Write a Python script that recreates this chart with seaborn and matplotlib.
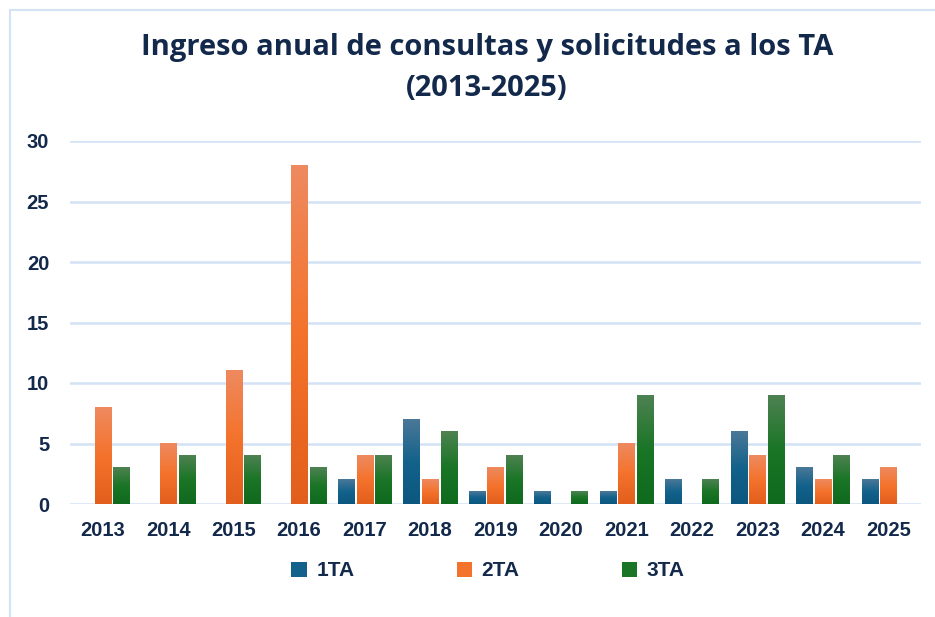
import numpy as np
import pandas as pd
import matplotlib
matplotlib.use("Agg")
import matplotlib.pyplot as plt
from matplotlib.colors import LinearSegmentedColormap
from matplotlib.patches import Patch, Rectangle
import seaborn as sns

# Data
years = ["2013", "2014", "2015", "2016", "2017", "2018", "2019",
         "2020", "2021", "2022", "2023", "2024", "2025"]
ta1 = [0, 0, 0, 0, 2, 7, 1, 1, 1, 2, 6, 3, 2]
ta2 = [8, 5, 11, 28, 4, 2, 3, 0, 5, 0, 4, 2, 3]
ta3 = [3, 4, 4, 3, 4, 6, 4, 1, 9, 2, 9, 4, 0]
series = ["1TA", "2TA", "3TA"]

df = pd.DataFrame({"year": years, "1TA": ta1, "2TA": ta2, "3TA": ta3})
long_df = df.melt(id_vars="year", var_name="serie", value_name="valor")

# gradient stops per series: top, middle, bottom
grad = {
    "1TA": ["#4b7898", "#13628b", "#0b5780"],
    "2TA": ["#ee8a60", "#f4732c", "#e25e1c"],
    "3TA": ["#4e8252", "#1a7526", "#106a1e"],
}
palette = {k: v[1] for k, v in grad.items()}
navy = "#13294b"
grid_col = "#d3e2f4"

sns.set_style("white")
plt.rcParams["font.family"] = ["Liberation Sans", "DejaVu Sans"]

fig = plt.figure(figsize=(9.35, 6.17), dpi=100)
ax = fig.add_axes([70 / 935, 113 / 617, 851 / 935, 363 / 617])

sns.barplot(data=long_df, x="year", y="valor", hue="serie", palette=palette,
            width=0.85, gap=0.13, ax=ax, legend=False)

# replace flat bars with vertical gradients
for container, name in zip(ax.containers, series):
    cmap = LinearSegmentedColormap.from_list(name, grad[name][::-1])
    g = np.linspace(0, 1, 256).reshape(-1, 1)
    for bar in container:
        h = bar.get_height()
        if h <= 0:
            bar.set_visible(False)
            continue
        x0, w = bar.get_x(), bar.get_width()
        ax.imshow(g, cmap=cmap, origin="lower", aspect="auto",
                  extent=[x0, x0 + w, 0, h], zorder=3)
        bar.set_visible(False)

ax.set_xlim(-0.5, len(years) - 0.5)
ax.set_ylim(0, 30)
ax.set_yticks(range(0, 31, 5))
ax.yaxis.grid(True, color=grid_col, linewidth=1.8)
ax.set_axisbelow(True)
for s in ax.spines.values():
    s.set_visible(False)
ax.set_xlabel("")
ax.set_ylabel("")
ax.tick_params(axis="both", length=0, labelsize=14.5, labelcolor=navy)
ax.tick_params(axis="x", pad=12)
ax.tick_params(axis="y", pad=15)
for lbl in ax.get_xticklabels() + ax.get_yticklabels():
    lbl.set_fontweight("bold")

title_font = dict(ha="center", va="center", fontsize=21, fontweight="bold",
                  color=navy, family=["Open Sans", "DejaVu Sans"])
fig.text(487 / 935, 1 - 48 / 617, "Ingreso anual de consultas y solicitudes a los TA",
         **title_font)
fig.text(487 / 935, 1 - 89 / 617, "(2013-2025)", **title_font)

handles = [Patch(facecolor=palette[s], edgecolor="none") for s in series]
fig.legend(handles, series, loc="center", bbox_to_anchor=(488 / 935, 46 / 617),
           ncol=3, frameon=False, handlelength=0.75, handleheight=0.75,
           handletextpad=0.45, columnspacing=4.9,
           prop={"weight": "bold", "size": 15}, labelcolor=navy)

# chart border
fig.add_artist(Rectangle((9.5 / 935, -0.05), 1.0, 1.05 - 9.5 / 617,
                         transform=fig.transFigure, fill=False,
                         edgecolor=grid_col, linewidth=1.5))

fig.savefig("out.png", dpi=100)
